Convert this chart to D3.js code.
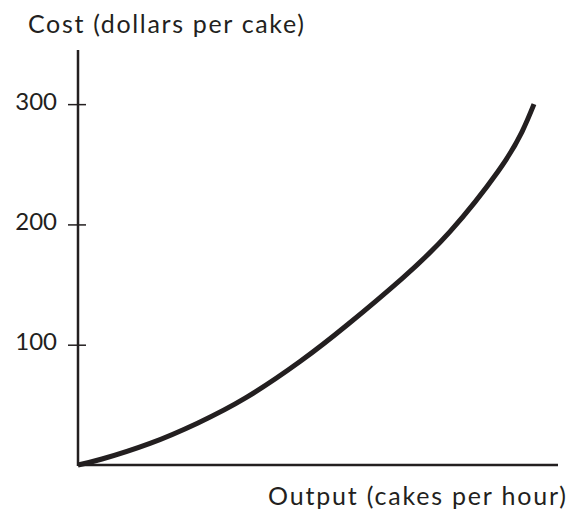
<!DOCTYPE html>
<html>
<head>
<meta charset="utf-8">
<script src="https://cdn.jsdelivr.net/npm/d3@7"></script>
<style>
  body { margin: 0; background: #fff; }
  svg text { font-family: Lato, "Open Sans", sans-serif; fill: #231f20; }
</style>
</head>
<body>
<svg id="chart" width="569" height="517"></svg>
<script>
// data
const output = [0, 2, 6, 10, 14, 18.5, 22.5, 27, 31, 35, 37, 38];
const cost = [0, 5, 18, 35, 56, 86, 117, 155, 194, 244, 277, 300];
const yTicks = [100, 200, 300];

const svg = d3.select('#chart');
const ink = '#231f20';

const x = d3.scaleLinear().domain([0, 40]).range([78, 558]);
const y = d3.scaleLinear().domain([0, 345]).range([465, 50]);

// axis lines
svg.append('line')
  .attr('x1', x(0)).attr('x2', x(0))
  .attr('y1', y(0) + 1).attr('y2', y(345))
  .attr('stroke', ink).attr('stroke-width', 2.5);
svg.append('line')
  .attr('x1', x(0)).attr('x2', x(40))
  .attr('y1', y(0)).attr('y2', y(0))
  .attr('stroke', ink).attr('stroke-width', 2.5);

// y ticks cross the axis
const yAxis = svg.append('g')
  .attr('transform', `translate(${x(0)},0)`)
  .call(d3.axisLeft(y).tickValues(yTicks).tickSize(10).tickPadding(11));
yAxis.select('.domain').remove();
yAxis.selectAll('.tick line')
  .attr('x2', -10).attr('x1', 8)
  .attr('stroke', ink).attr('stroke-width', 1.5);
yAxis.selectAll('.tick text')
  .attr('dy', '0.22em')
  .style('font-size', '24px');

// the curve
const line = d3.line()
  .x((d, i) => x(output[i]))
  .y(d => y(d))
  .curve(d3.curveNatural);

svg.append('path')
  .datum(cost)
  .attr('d', line)
  .attr('fill', 'none')
  .attr('stroke', ink)
  .attr('stroke-width', 5);

// labels
svg.append('text')
  .attr('x', 28).attr('y', 33)
  .attr('textLength', 276).attr('lengthAdjust', 'spacing')
  .style('font-size', '25px')
  .text('Cost (dollars per cake)');
svg.append('text')
  .attr('x', 268).attr('y', 505)
  .attr('textLength', 298).attr('lengthAdjust', 'spacing')
  .style('font-size', '25px')
  .text('Output (cakes per hour)');
</script>
</body>
</html>
